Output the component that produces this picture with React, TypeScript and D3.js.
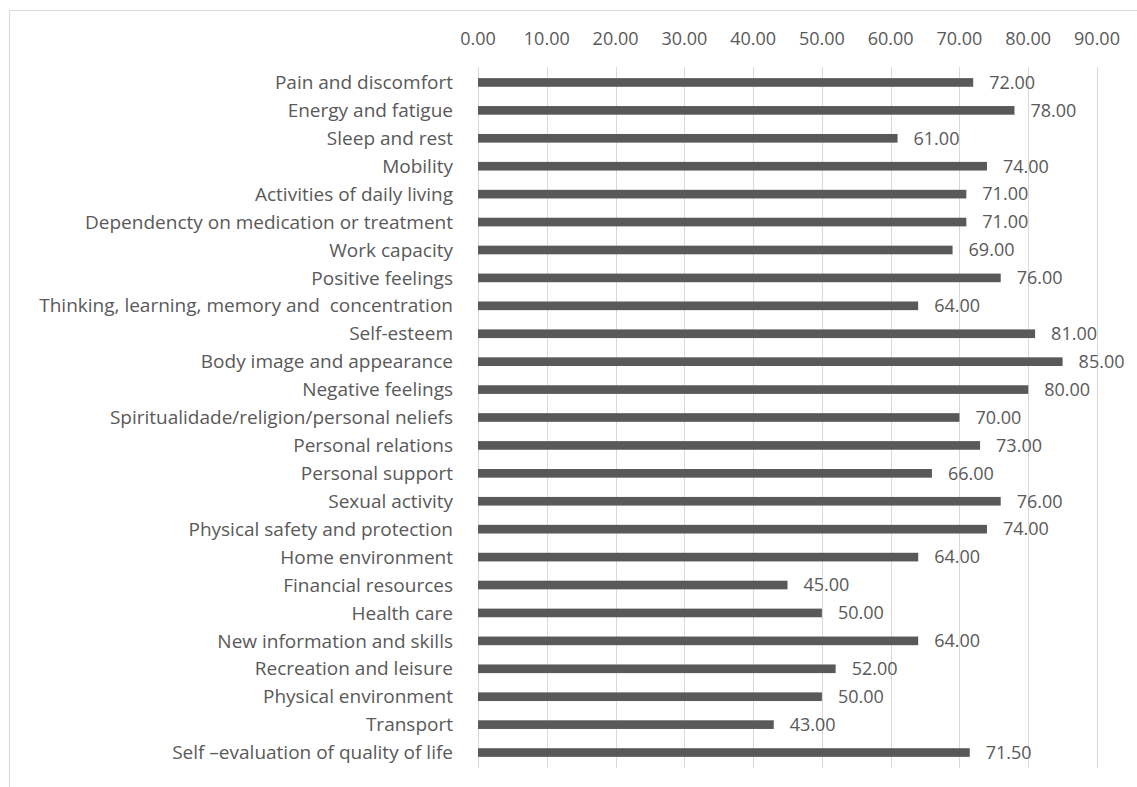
import React, { useEffect, useRef } from 'react';
import * as d3 from 'd3';

const categories = [
  'Pain and discomfort',
  'Energy and fatigue',
  'Sleep and rest',
  'Mobility',
  'Activities of daily living',
  'Dependencty on medication or treatment',
  'Work capacity',
  'Positive feelings',
  'Thinking, learning, memory and  concentration',
  'Self-esteem',
  'Body image and appearance',
  'Negative feelings',
  'Spiritualidade/religion/personal neliefs',
  'Personal relations',
  'Personal support',
  'Sexual activity',
  'Physical safety and protection',
  'Home environment',
  'Financial resources',
  'Health care',
  'New information and skills',
  'Recreation and leisure',
  'Physical environment',
  'Transport',
  'Self \u2013evaluation of quality of life',
];

const values = [72, 78, 61, 74, 71, 71, 69, 76, 64, 81, 85, 80, 70, 73, 66, 76, 74, 64, 45, 50, 64, 52, 50, 43, 71.5];

const ticks = [0, 10, 20, 30, 40, 50, 60, 70, 80, 90];

const W = 1137;
const H = 787;

export default function App() {
  const ref = useRef<SVGSVGElement>(null);

  useEffect(() => {
    const svg = d3.select(ref.current);
    svg.selectAll('*').remove();

    const font = "'Open Sans', Lato, sans-serif";
    const textColor = '#595959';

    // chart frame
    svg.append('rect')
      .attr('x', 9.5).attr('y', 10.5)
      .attr('width', 1200).attr('height', 900)
      .attr('fill', 'none')
      .attr('stroke', '#d9d9d9');

    const x = d3.scaleLinear().domain([0, 90]).range([478, 1097]);
    const y = d3.scaleBand<string>()
      .domain(categories)
      .range([68.5, 766.5])
      .paddingInner(0.69)
      .paddingOuter(0.345);

    // grid
    svg.append('g')
      .selectAll('line')
      .data(ticks)
      .enter()
      .append('line')
      .attr('x1', d => Math.round(x(d)) + 0.5)
      .attr('x2', d => Math.round(x(d)) + 0.5)
      .attr('y1', 67)
      .attr('y2', 768)
      .attr('stroke', '#d9d9d9')
      .attr('stroke-width', 1);

    // top axis labels
    svg.append('g')
      .selectAll('text')
      .data(ticks)
      .enter()
      .append('text')
      .attr('x', d => x(d))
      .attr('y', 39)
      .attr('dy', '0.35em')
      .attr('text-anchor', 'middle')
      .attr('font-family', font)
      .attr('font-size', 18)
      .attr('fill', textColor)
      .text(d => d3.format('.2f')(d));

    // bars
    svg.append('g')
      .selectAll('rect')
      .data(values)
      .enter()
      .append('rect')
      .attr('x', x(0))
      .attr('y', (d, i) => y(categories[i]) as number)
      .attr('width', d => x(d) - x(0))
      .attr('height', y.bandwidth())
      .attr('fill', '#595959');

    // category labels
    svg.append('g')
      .selectAll('text')
      .data(categories)
      .enter()
      .append('text')
      .attr('x', 453)
      .attr('y', d => (y(d) as number) + y.bandwidth() / 2)
      .attr('dy', '0.35em')
      .attr('text-anchor', 'end')
      .attr('font-family', font)
      .attr('font-size', 19)
      .attr('fill', textColor)
      .style('white-space', 'pre')
      .text(d => d);

    // value labels
    svg.append('g')
      .selectAll('text')
      .data(values)
      .enter()
      .append('text')
      .attr('x', d => x(d) + 16)
      .attr('y', (d, i) => (y(categories[i]) as number) + y.bandwidth() / 2)
      .attr('dy', '0.35em')
      .attr('font-family', font)
      .attr('font-size', 18)
      .attr('fill', textColor)
      .text(d => d3.format('.2f')(d));
  }, []);

  return (
    <div style={{ position: 'absolute', left: 0, top: 0 }}>
      <svg ref={ref} width={W} height={H} style={{ display: 'block', background: '#fff' }} />
    </div>
  );
}
